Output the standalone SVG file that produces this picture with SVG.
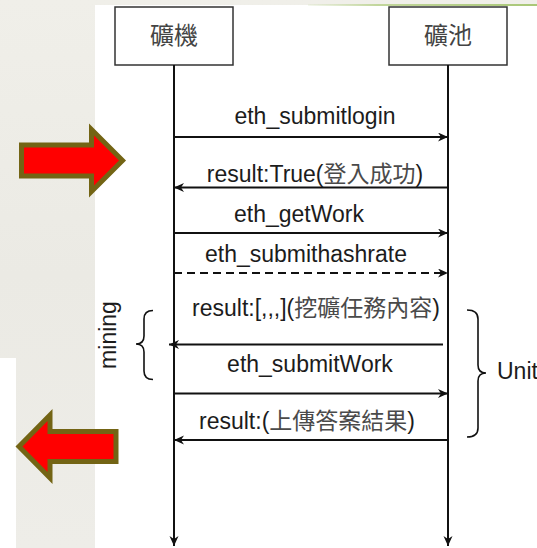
<svg xmlns="http://www.w3.org/2000/svg" width="537" height="548" viewBox="0 0 537 548">
  <style>
    .box { fill: #ffffff; stroke: #333333; stroke-width: 1.5; }
    .life { stroke: #111111; stroke-width: 2; fill: none; }
    .msg { stroke: #111111; stroke-width: 2; fill: none; }
    .dash { stroke-dasharray: 8 5; }
    .brace { stroke: #111111; stroke-width: 1.6; fill: none; }
    .lbl { font-family: "Liberation Sans", "Noto Sans CJK TC", Arial, sans-serif; font-size: 23px; fill: #1c1c1c; text-anchor: middle; }
    .cjk { fill: #4a4a4a; }
    .title { font-family: "Noto Sans CJK TC", "Liberation Sans", sans-serif; font-size: 24px; fill: #444444; text-anchor: middle; }
    .bigarrow { fill: #ff0000; stroke: #736414; stroke-width: 5; stroke-linejoin: miter; }
  </style>
  <defs>
    <marker id="head" markerUnits="userSpaceOnUse" markerWidth="11" markerHeight="10" refX="10" refY="4.5" orient="auto">
      <path d="M0,0 L10,4.5 L0,9 L3,4.5 z" fill="#111111"/>
    </marker>
    <linearGradient id="topline" x1="0" y1="0" x2="1" y2="0">
      <stop offset="0" stop-color="#c9dbab" stop-opacity="0.2"/>
      <stop offset="0.3" stop-color="#c2d69c"/>
      <stop offset="1" stop-color="#a9c777"/>
    </linearGradient>
    <linearGradient id="paper" x1="0" y1="0" x2="0" y2="1">
      <stop offset="0" stop-color="#f0efe9"/>
      <stop offset="0.5" stop-color="#ebeae4"/>
      <stop offset="1" stop-color="#eeede8"/>
    </linearGradient>
  </defs>

  <!-- page background -->
  <rect x="0" y="0" width="537" height="548" fill="url(#paper)"/>
  <rect x="0" y="358" width="16" height="190" fill="#ffffff"/>
  <rect x="95" y="5" width="442" height="543" fill="#ffffff"/>
  <rect x="308" y="4" width="229" height="2" fill="url(#topline)"/>

  <!-- participants -->
  <g id="miner">
    <rect class="box" x="115" y="7" width="118" height="58"/>
    <text class="title" x="174" y="44">礦機</text>
  </g>
  <g id="pool">
    <rect class="box" x="389" y="7" width="118" height="58"/>
    <text class="title" x="448" y="44">礦池</text>
  </g>

  <!-- lifelines and messages -->
  <g id="connectors">
    <line class="life" x1="174" y1="65" x2="174" y2="546" marker-end="url(#head)"/>
    <line class="life" x1="448" y1="65" x2="448" y2="546" marker-end="url(#head)"/>

    <line class="msg" x1="174" y1="137" x2="448" y2="137" marker-end="url(#head)"/>
    <line class="msg" x1="448" y1="187.5" x2="174" y2="187.5" marker-end="url(#head)"/>
    <line class="msg" x1="174" y1="233" x2="448" y2="233" marker-end="url(#head)"/>
    <line class="msg dash" x1="174" y1="273" x2="448" y2="273" marker-end="url(#head)"/>
    <line class="msg" x1="443" y1="344.5" x2="169" y2="344.5" marker-end="url(#head)"/>
    <line class="msg" x1="174" y1="393.5" x2="448" y2="393.5" marker-end="url(#head)"/>
    <line class="msg" x1="448" y1="440" x2="174" y2="440" marker-end="url(#head)"/>
  </g>

  <!-- message labels -->
  <g id="labels">
    <text class="lbl" x="315" y="124">eth_submitlogin</text>
    <text class="lbl" x="315" y="182">result:True(<tspan class="cjk">登入成功</tspan>)</text>
    <text class="lbl" x="299" y="222">eth_getWork</text>
    <text class="lbl" x="306" y="262">eth_submithashrate</text>
    <text class="lbl" x="316" y="316">result:[,,,](<tspan class="cjk">挖礦任務內容</tspan>)</text>
    <text class="lbl" x="310" y="372">eth_submitWork</text>
    <text class="lbl" x="307" y="429">result:(<tspan class="cjk">上傳答案結果</tspan>)</text>
  </g>

  <!-- loop brackets -->
  <g id="mining-group">
    <path class="brace" d="M153,310.5 Q144,310.5 144,319 L144,336 Q144,344 136,344 Q144,344 144,352 L144,371 Q144,379.5 153,379.5"/>
    <text class="lbl" transform="translate(116,335) rotate(-90)">mining</text>
  </g>
  <g id="unit-group">
    <path class="brace" d="M467,310 Q478,310 478,319 L478,365 Q478,373 486,373 Q478,373 478,381 L478,428 Q478,437 467,437"/>
    <text class="lbl" x="497" y="379" style="text-anchor:start">Unit</text>
  </g>

  <!-- side arrows -->
  <g id="arrow-right">
    <polygon class="bigarrow" points="21.5,145 91.5,145 91.5,129.5 122.5,160.5 91.5,191.5 91.5,176 21.5,176"/>
  </g>
  <g id="arrow-left">
    <polygon class="bigarrow" points="116,431.5 50,431.5 50,415 19,446.5 50,478 50,461.5 116,461.5"/>
  </g>
</svg>
